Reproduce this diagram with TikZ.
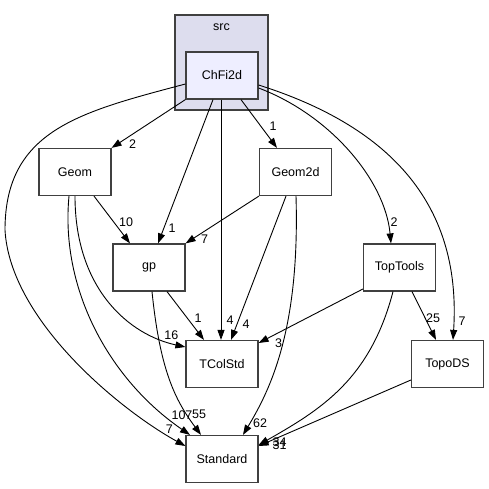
\documentclass[tikz,border=0pt]{standalone}
\usepackage{fontspec}
\setmainfont{Liberation Sans}
\usetikzlibrary{arrows.meta}

\begin{document}
\begin{tikzpicture}[
    x=1pt,
    y=-1pt,
    >={Triangle[length=10pt,width=7pt]},
    dep/.style={
        ->,
        line width=0.9pt,
        black,
    },
    dir/.style={
        rectangle,
        draw=black!75,
        line width=1.2pt,
        minimum width=72pt,
        minimum height=47pt,
        font=\fontsize{12.5}{15}\selectfont,
    },
    hl/.style={
        inner sep=0pt,
        font=\fontsize{12.5}{15}\selectfont,
    },
]
    \useasboundingbox (0,0) rectangle (489,489);

    \node[dir, fill={rgb,255:red,221;green,221;blue,238}, minimum width=93pt, minimum height=95pt] (src) at (221.5,62.5) {};
    \node[hl] (srclabel) at (221.5,27) {src};

    \node[dir, fill={rgb,255:red,238;green,238;blue,255}] (ChFi2d) at (222,75.5) {ChFi2d};
    \node[dir] (Geom)     at (75,172)    {Geom};
    \node[dir] (Geom2d)   at (295.5,172) {Geom2d};
    \node[dir] (gp)       at (149,267.5) {gp};
    \node[dir] (TopTools) at (399.5,267.5) {TopTools};
    \node[dir] (TColStd)  at (222,364)   {TColStd};
    \node[dir] (TopoDS)   at (447.5,364) {TopoDS};
    \node[dir] (Standard) at (222,459)   {Standard};

    % ChFi2d
    \draw[dep] (ChFi2d.south west) -- (Geom.north east) node[hl, xshift=21pt, yshift=4pt] {2};
    \draw[dep] ([xshift=-9pt]ChFi2d.south) -- ([xshift=9pt]gp.north) node[hl, xshift=14pt, yshift=15pt] {1};
    \draw[dep] ([xshift=-1pt]ChFi2d.south) -- ([xshift=-1pt]TColStd.north) node[hl, xshift=9pt, yshift=20pt] {4};
    \draw[dep] ([xshift=19pt]ChFi2d.south) -- ([xshift=-18.5pt]Geom2d.north) node[hl, xshift=-4pt, yshift=22pt] {1};
    \draw[dep] ([yshift=-12.5pt]ChFi2d.east) .. controls (330,115) and (385,180) .. ([xshift=-8.5pt]TopTools.north) node[hl, xshift=3pt, yshift=21pt] {2};
    \draw[dep] ([yshift=-9.5pt]ChFi2d.east) .. controls (385,125) and (462,200) .. ([xshift=5.5pt]TopoDS.north) node[hl, xshift=9pt, yshift=19pt] {7};
    \draw[dep] ([yshift=-8.5pt]ChFi2d.west) .. controls (80,112) and (5,130) .. (5,230) .. controls (10,320) and (120,410) .. ([yshift=13pt]Standard.west) node[hl, xshift=-16pt, yshift=17pt] {7};

    % Geom
    \draw[dep] ([xshift=19pt]Geom.south) -- ([xshift=-19pt]gp.north) node[hl, xshift=-4pt, yshift=21pt] {10};
    \draw[dep] (Geom.south) .. controls (75,290) and (130,335) .. ([yshift=17pt]TColStd.west) node[hl, xshift=-14pt, yshift=12pt] {16};
    \draw[dep] ([xshift=-6pt]Geom.south) .. controls (60,290) and (110,380) .. ([xshift=-32pt]Standard.north) node[hl, xshift=-8pt, yshift=20pt] {107};

    % gp
    \draw[dep] ([xshift=18pt]gp.south) -- ([xshift=-18pt]TColStd.north) node[hl, xshift=-6pt, yshift=22pt] {1};
    \draw[dep] ([xshift=3pt]gp.south) .. controls (160,370) and (175,400) .. ([xshift=-21pt]Standard.north) node[hl, xshift=-2pt, yshift=21pt] {55};

    % Geom2d
    \draw[dep] (Geom2d.south west) -- (gp.north east) node[hl, xshift=19pt, yshift=4pt] {7};
    \draw[dep] ([xshift=-9.5pt]Geom2d.south) -- ([xshift=9pt]TColStd.north) node[hl, xshift=15pt, yshift=16pt] {4};
    \draw[dep] ([xshift=0.5pt]Geom2d.south) .. controls (300,330) and (270,390) .. ([xshift=21pt]Standard.north) node[hl, xshift=17pt, yshift=12pt] {62};

    % TopTools
    \draw[dep] ([yshift=-21.5pt]TopTools.west) -- ([yshift=21pt]TColStd.east) node[hl, xshift=20pt] {3};
    \draw[dep] ([xshift=12.5pt]TopTools.south) -- ([xshift=-11.5pt]TopoDS.north) node[hl, xshift=-3pt, yshift=22pt] {25};
    \draw[dep] ([xshift=-6.5pt]TopTools.south) .. controls (370,380) and (320,410) .. ([yshift=14pt]Standard.east) node[hl, xshift=21pt, yshift=3pt] {34};

    % TopoDS
    \draw[dep] ([yshift=-16pt]TopoDS.west) -- ([yshift=13pt]Standard.east) node[hl, xshift=21pt, yshift=1pt] {31};
\end{tikzpicture}
\end{document}
